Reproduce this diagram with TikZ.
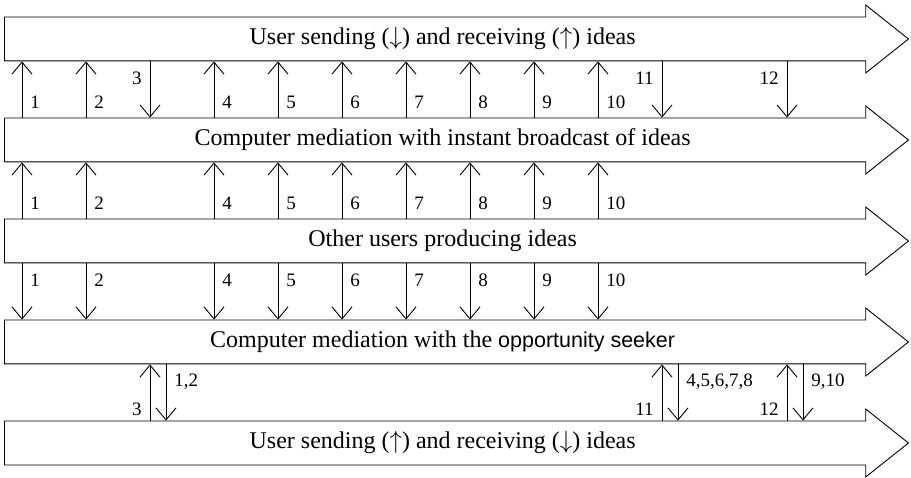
\documentclass[tikz,border=0pt]{standalone}
\usepackage{fontspec}
\setmainfont{Liberation Serif}
\newfontfamily\sansfont{Liberation Sans}
\usetikzlibrary{shapes.arrows,arrows.meta}

\begin{document}
\begin{tikzpicture}[x=1pt,y=-1pt,line width=0.9pt,>={Straight Barb[length=12pt,width=20pt]}]
  \tikzstyle{band}=[single arrow, draw, anchor=tail, minimum height=904pt,
    single arrow head extend=12pt, single arrow head indent=0pt, single arrow tip angle=77,
    text height=16pt, text depth=5pt, inner ysep=11pt, font=\fontsize{24}{28}\selectfont]
  \tikzstyle{num}=[inner sep=3pt, font=\fontsize{19}{22}\selectfont]
  \useasboundingbox (0,0) rectangle (911,478);

  % the five bands
  \node[band] (send)   at (4,39)  {User sending ($\downarrow$) and receiving ($\uparrow$) ideas};
  \node[band] (bcast)  at (4,140) {Computer mediation with instant broadcast of ideas};
  \node[band] (others) at (4,241) {Other users producing ideas};
  \node[band] (seeker) at (4,342) {Computer mediation with the {\sansfont\fontsize{21.5}{26}\selectfont opportunity seeker}};
  \node[band] (recv)   at (4,443) {User sending ($\uparrow$) and receiving ($\downarrow$) ideas};

  \foreach \i/\x in {1/22,2/86,3/150,4/214,5/278,6/342,7/406,8/470,9/534,10/598,11/662,12/787}
    \coordinate (p\i) at (\x,0);
  \foreach \i in {3,11,12}
    \coordinate (q\i) at ([xshift=16pt]p\i);

  % user <-> broadcast
  \foreach \i in {1,2,4,5,6,7,8,9,10}
    \draw[->] (p\i |- bcast.north) -- node[num,pos=0.27,right=5pt] {\i} (p\i |- send.south);
  \foreach \i in {3,11,12}
    \draw[->] (p\i |- send.south) -- node[num,pos=0.3,left=5pt] {\i} (p\i |- bcast.north);

  % broadcast <- other users
  \foreach \i in {1,2,4,5,6,7,8,9,10}
    \draw[->] (p\i |- others.north) -- node[num,pos=0.27,right=5pt] {\i} (p\i |- bcast.south);

  % other users -> opportunity seeker
  \foreach \i in {1,2,4,5,6,7,8,9,10}
    \draw[->] (p\i |- others.south) -- node[num,pos=0.3,right=5pt] {\i} (p\i |- seeker.north);

  % opportunity seeker <-> user
  \foreach \i/\t in {3/{1,2},11/{4,5,6,7,8},12/{9,10}}{
    \draw[->] (p\i |- recv.north) -- node[num,pos=0.2,left=5pt] {\i} (p\i |- seeker.south);
    \draw[->] (q\i |- seeker.south) -- node[num,pos=0.3,right=5pt] {\t} (q\i |- recv.north);
  }
\end{tikzpicture}
\end{document}
